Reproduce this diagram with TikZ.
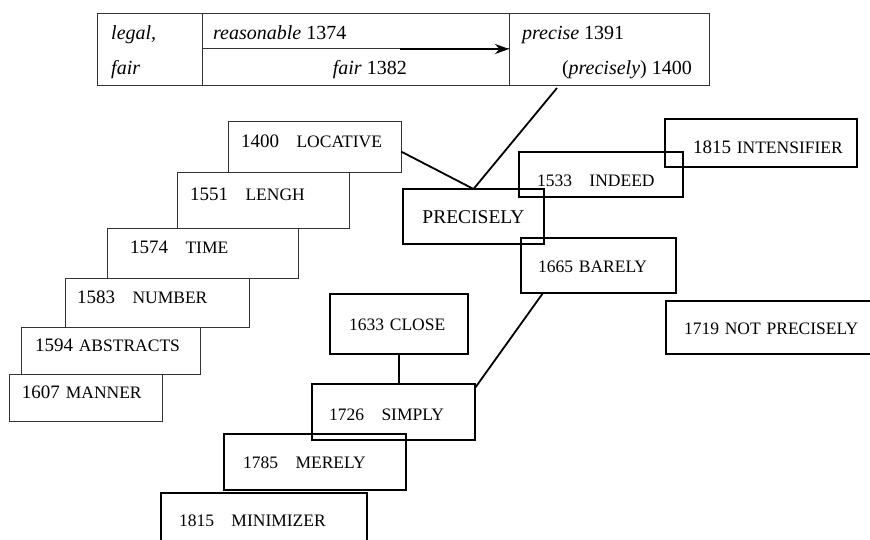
\documentclass[tikz,border=0pt]{standalone}
\usepackage{fontspec}
\setmainfont{Liberation Serif}
\usepackage{tikz}
\usetikzlibrary{arrows.meta}

\newcommand\yrnum[1]{{\fontsize{19}{21}\selectfont #1}}

\tikzset{
  cell/.style={draw=black!80, line width=0.9pt, anchor=north west, inner sep=0pt, outer sep=0pt},
  cell text/.style={anchor=base west, inner sep=0pt, font=\fontsize{20}{23}\selectfont},
  sense/.style={draw=black!80, line width=0.9pt, anchor=north west, inner sep=0pt, outer sep=0pt,
    align=left, font=\fontsize{17.5}{21}\selectfont, text height=13pt, text depth=11pt},
  later/.style={sense, draw=black, line width=2.6pt, text depth=0pt},
  pad/.style={execute at begin node={\hspace*{#1}}},
  link/.style={line width=1.8pt},
}

\begin{document}
\begin{tikzpicture}[x=1pt, y=-1pt]
    \useasboundingbox (0,0) rectangle (870,540);
    \node[cell, minimum width=105pt, minimum height=72pt] (lg) at (97,13) {};
    \node[cell, minimum width=307pt, minimum height=35pt] (rs) at (202,13) {};
    \node[cell, minimum width=307pt, minimum height=37pt] (fr) at (202,48) {};
    \node[cell, minimum width=200pt, minimum height=72pt] (pr) at (509,13) {};
    \node[cell text] (lg1) at (111,40) {\textit{legal,}};
    \node[cell text] (lg2) at (111,75) {\textit{fair}};
    \node[cell text] (rs1) at (213,40) {\textit{reasonable} 1374};
    \node[cell text, anchor=base east] (fr1) at (407,75) {\textit{fair} 1382};
    \node[cell text] (pr1) at (522,40) {\textit{precise} 1391};
    \node[cell text, anchor=base east] (pr2) at (692,75) {(\textit{precisely}) 1400};
    \coordinate (arr) at (400,49);
    \draw[line width=2.6pt, -{Stealth[length=14pt, width=10pt]}] (arr) -- (pr.west);

    \node[sense, pad=13pt, text width=173pt, minimum height=51pt] (loc) at (228,121) {\yrnum{1400}\quad LOCATIVE};
    \node[sense, pad=13pt, text width=172pt, minimum height=56pt] (len) at (177,172) {\yrnum{1551}\quad LENGH};
    \node[sense, pad=23pt, text width=191pt, minimum height=50pt] (tim) at (107,228) {\yrnum{1574}\quad TIME};
    \node[sense, pad=12pt, text width=184pt, minimum height=49pt] (num) at (65,278) {\yrnum{1583}\quad NUMBER};
    \node[sense, pad=14pt, text width=179pt, minimum height=47pt] (abst) at (21,327) {\yrnum{1594} ABSTRACTS};
    \node[sense, pad=13pt, text width=153pt, minimum height=47pt] (man) at (9,374) {\yrnum{1607} MANNER};

    \node[later, align=center, text width=141pt, minimum height=55pt, font=\fontsize{19.5}{23}\selectfont] (prc) at (403,189) {PRECISELY};
    \node[later, pad=18pt, text width=164pt, minimum height=45pt, text height=24pt] (ind) at (519,152) {1533\quad INDEED};
    \node[later, pad=28pt, text width=192pt, minimum height=48pt, text height=21pt] (ints) at (665,119) {\yrnum{1815} INTENSIFIER};
    \node[later, pad=17pt, text width=155pt, minimum height=55pt] (bar) at (521,238) {1665 BARELY};
    \node[later, pad=19pt, text width=138pt, minimum height=60pt] (clo) at (330,294) {1633 CLOSE};
    \node[later, pad=17pt, text width=163pt, minimum height=56pt, text height=17pt] (sim) at (312,384) {1726\quad SIMPLY};
    \node[later, pad=18pt, text width=240pt, minimum height=53pt] (npr) at (666,301) {1719 NOT PRECISELY};
    \node[later, pad=19pt, text width=182pt, minimum height=56pt] (mer) at (224,434) {1785\quad MERELY};
    \node[later, pad=18pt, text width=206pt, minimum height=54pt] (mnz) at (161,493) {1815\quad MINIMIZER};

    \draw[link] ([xshift=48pt, yshift=-3pt]pr.south west) -- (prc.north);
    \draw[link] ([yshift=-5pt]loc.east) -- (prc.north);
    \draw[link] (clo.south) -- (clo.south |- sim.north);
    \draw[link] ([xshift=22pt]bar.south west) -- ([yshift=-4pt]sim.north east);
\end{tikzpicture}
\end{document}
